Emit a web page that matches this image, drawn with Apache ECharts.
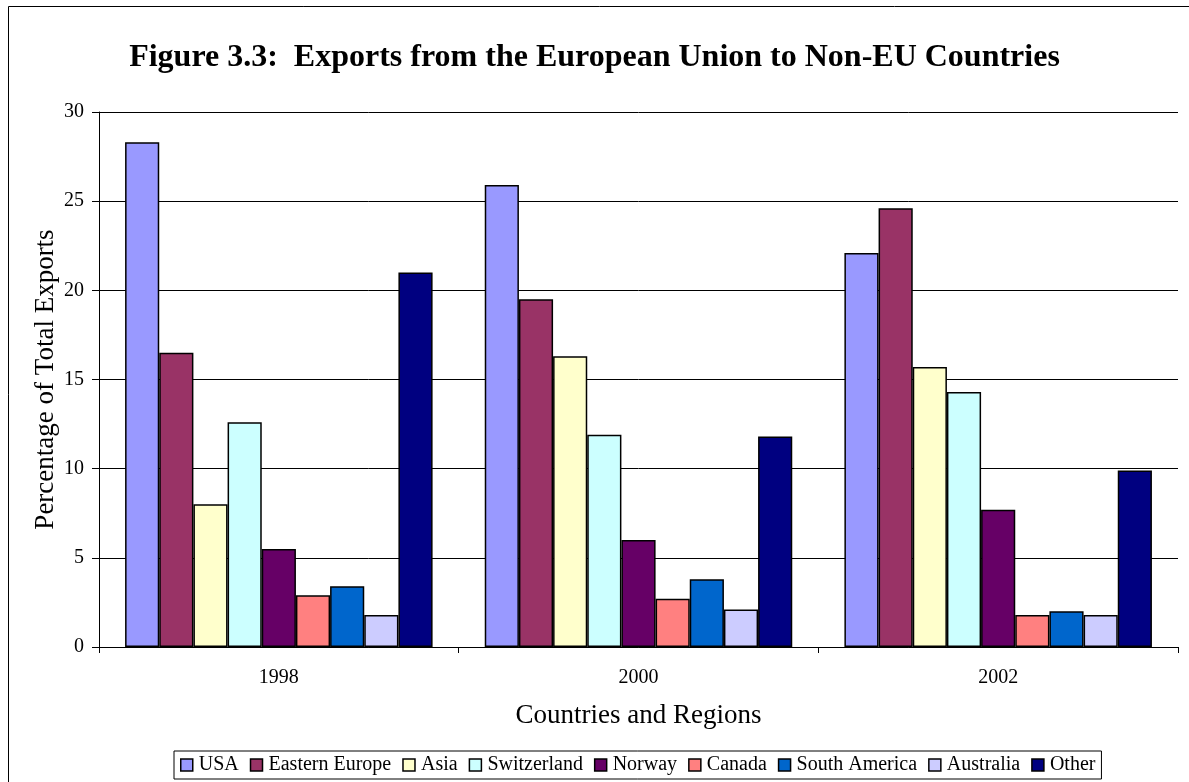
<!DOCTYPE html>
<html>
<head>
<meta charset="utf-8">
<title>Exports from the European Union to Non-EU Countries</title>
<script src="https://cdn.jsdelivr.net/npm/echarts@6/dist/echarts.min.js"></script>
<style>
  html, body { margin: 0; padding: 0; background: #fff; }
  #chart { width: 1189px; height: 782px; }
</style>
</head>
<body>
<div id="chart"></div>
<script>
// data
const years = ['1998', '2000', '2002']
const regions = ['USA', 'Eastern Europe', 'Asia', 'Switzerland', 'Norway', 'Canada', 'South America', 'Australia', 'Other']
const usa = [28.3, 25.9, 22.1]
const easternEurope = [16.5, 19.5, 24.6]
const asia = [8.0, 16.3, 15.7]
const switzerland = [12.6, 11.9, 14.3]
const norway = [5.5, 6.0, 7.7]
const canada = [2.9, 2.7, 1.8]
const southAmerica = [3.4, 3.8, 2.0]
const australia = [1.8, 2.1, 1.8]
const other = [21.0, 11.8, 9.9]
const yTicks = [0, 5, 10, 15, 20, 25, 30]

const seriesValues = [usa, easternEurope, asia, switzerland, norway, canada, southAmerica, australia, other]
const colors = ['#9999FF', '#993366', '#FFFFCC', '#CCFFFF', '#660066', '#FF8080', '#0066CC', '#CCCCFF', '#000080']
const serif = '"Liberation Serif", "Times New Roman", serif'

const chart = echarts.init(document.getElementById('chart'))

const option = {
  animation: false,
  textStyle: { fontFamily: serif, color: '#000' },
  graphic: [{
    type: 'rect',
    shape: { x: 8.5, y: 6.5, width: 1200, height: 800 },
    style: { fill: 'none', stroke: '#000', lineWidth: 1 },
    silent: true
  }],
  title: {
    text: 'Figure 3.3:  Exports from the European Union to Non-EU Countries',
    left: 'center',
    top: 37,
    textStyle: { fontFamily: serif, fontSize: 32, fontWeight: 'bold', color: '#000' }
  },
  legend: {
    data: regions,
    bottom: 3,
    left: 174,
    itemWidth: 12,
    itemHeight: 12,
    itemGap: 11,
    padding: [4, 6, 4, 6],
    borderColor: '#000',
    borderWidth: 1,
    icon: 'rect',
    itemStyle: { borderColor: '#000', borderWidth: 1.5 },
    textStyle: { fontFamily: serif, fontSize: 20, color: '#000', padding: [0, 0, 0, 1] }
  },
  grid: {
    left: 99,
    right: 11,
    top: 112,
    bottom: 135
  },
  xAxis: {
    type: 'category',
    data: years,
    name: 'Countries and Regions',
    nameLocation: 'middle',
    nameGap: 55,
    nameMoveOverlap: false,
    nameTextStyle: { fontFamily: serif, fontSize: 27, color: '#000' },
    axisLine: { lineStyle: { color: '#000', width: 1 } },
    axisTick: { show: true, length: 6, inside: false, lineStyle: { color: '#000' } },
    axisLabel: { fontFamily: serif, fontSize: 20, color: '#000', margin: 21 },
    splitLine: { show: false }
  },
  yAxis: {
    type: 'value',
    min: yTicks[0],
    max: yTicks[yTicks.length - 1],
    interval: 5,
    name: 'Percentage of Total Exports',
    nameLocation: 'middle',
    nameGap: 40,
    nameMoveOverlap: false,
    nameTextStyle: { fontFamily: serif, fontSize: 27, color: '#000' },
    axisLine: { show: true, lineStyle: { color: '#000', width: 1 } },
    axisTick: { show: true, length: 7, lineStyle: { color: '#000' } },
    axisLabel: { fontFamily: serif, fontSize: 20, color: '#000', margin: 15 },
    splitLine: { show: true, lineStyle: { color: '#000', width: 1 } }
  },
  series: regions.map((name, i) => ({
    name: name,
    type: 'bar',
    data: seriesValues[i],
    barGap: '0%',
    barCategoryGap: '14.5%',
    itemStyle: { color: colors[i], borderColor: '#000', borderWidth: 1.5 }
  }))
}

chart.setOption(option)
</script>
</body>
</html>
